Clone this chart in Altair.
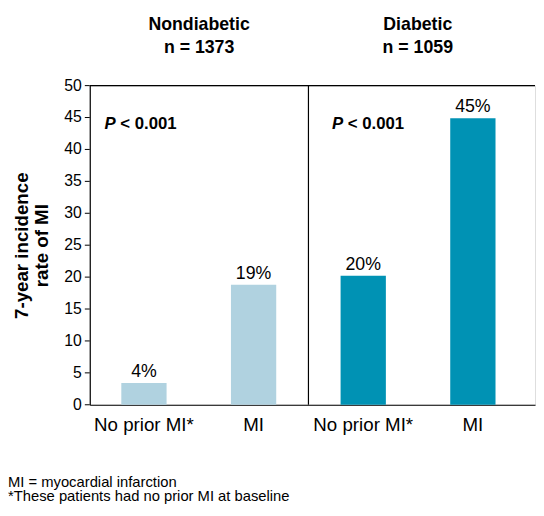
import altair as alt
import pandas as pd

# ---- data ----
keys = ["nd_no", "nd_mi", "d_no", "d_mi"]
categories = ["No prior MI*", "MI", "No prior MI*", "MI"]
groups = ["Nondiabetic", "Nondiabetic", "Diabetic", "Diabetic"]
values = [3.4, 18.8, 20.2, 44.9]
value_labels = ["4%", "19%", "20%", "45%"]
group_titles = ["Nondiabetic", "Diabetic"]
group_sizes = ["n = 1373", "n = 1059"]
p_value_text = "< 0.001"
y_ticks = [0, 5, 10, 15, 20, 25, 30, 35, 40, 45, 50]
y_tick_labels = ["0", "5", "10", "15", "20", "25", "30", "35", "40", "45", "50"]
footnotes = ["MI = myocardial infarction", "*These patients had no prior MI at baseline"]

FONT = "Liberation Sans"
LIGHT = "#b0d2e0"
TEAL = "#0092b4"

df = pd.DataFrame({"key": keys, "cat": categories, "group": groups,
                   "value": values, "label": value_labels})

label_expr = "[" + ",".join(f"'{c}'" for c in categories) + "][indexof([" + \
    ",".join(f"'{k}'" for k in keys) + "], datum.value)]"

W, H = 452, 324

xscale = alt.Scale(domain=keys, paddingInner=0.587, paddingOuter=0.324, align=0.444)
yscale = alt.Scale(domain=[0, 50], nice=False)

xaxis = alt.Axis(labelExpr=label_expr, title=None, ticks=False, labelAngle=0,
                 labelFontSize=19, labelFont=FONT, labelColor="black",
                 labelPadding=11, domainColor="black", domainWidth=1.2)
yaxis = alt.Axis(labels=False, ticks=False, grid=False,
                 domainColor="black", domainWidth=1.2,
                 title=["7-year incidence", "rate of MI"], titleFont=FONT,
                 titleFontSize=19, titleFontWeight="bold", titleColor="black",
                 titleLineHeight=20, titlePadding=39)

X = alt.X("key:N", scale=xscale, sort=keys, axis=xaxis)

base = alt.Chart(df)

bars = base.mark_bar().encode(
    x=X,
    y=alt.Y("value:Q", scale=yscale, axis=yaxis),
    color=alt.Color("group:N", scale=alt.Scale(domain=group_titles, range=[LIGHT, TEAL]),
                    legend=None),
)

labels = base.mark_text(baseline="bottom", dy=-2, fontSize=18, font=FONT, color="black").encode(
    x=X,
    y=alt.Y("value:Q", scale=yscale, axis=yaxis),
    text="label:N",
)

# y ticks and tick labels drawn from the tick list through the y scale
tick_df = pd.DataFrame({"t": y_ticks, "lab": y_tick_labels})
ticks = alt.Chart(tick_df).mark_rule(color="black", strokeWidth=1).encode(
    y=alt.Y("t:Q", scale=yscale, axis=yaxis), x=alt.value(-5), x2=alt.value(0))
tick_text = alt.Chart(tick_df).mark_text(align="right", baseline="middle", fontSize=16,
                                         font=FONT, color="black").encode(
    y=alt.Y("t:Q", scale=yscale, axis=yaxis), x=alt.value(-8), text="lab:N")

top_df = pd.DataFrame({"v": [50]})
top_rule = alt.Chart(top_df).mark_rule(color="black", strokeWidth=1.2).encode(
    y=alt.Y("v:Q", scale=yscale, axis=yaxis))

divider = alt.Chart(top_df).mark_rule(color="black", strokeWidth=1.2).encode(
    x=alt.value(222), y=alt.value(0), y2=alt.value(H))

hdr_df = pd.DataFrame({"t": group_titles, "n": group_sizes, "px": [111, 333]})
hdr1 = alt.Chart(hdr_df).mark_text(fontSize=18, fontWeight="bold", font=FONT, color="black").encode(
    x=alt.X("px:Q", scale=None), y=alt.value(-61), text="t:N")
hdr2 = alt.Chart(hdr_df).mark_text(fontSize=18, fontWeight="bold", font=FONT, color="black").encode(
    x=alt.X("px:Q", scale=None), y=alt.value(-38), text="n:N")

p_df = pd.DataFrame({"px": [15, 246], "p": ["P", "P"], "rest": [p_value_text, p_value_text]})
p1 = alt.Chart(p_df).mark_text(fontSize=17, fontWeight="bold", fontStyle="italic", font=FONT,
                               color="black", align="left").encode(
    x=alt.X("px:Q", scale=None), y=alt.value(39), text="p:N")
p2 = alt.Chart(p_df).mark_text(fontSize=17, fontWeight="bold", font=FONT,
                               color="black", align="left", dx=16).encode(
    x=alt.X("px:Q", scale=None), y=alt.value(39), text="rest:N")

fn_df = pd.DataFrame({"t": footnotes, "py": [407, 422]})
fn = alt.Chart(fn_df).mark_text(fontSize=15, font=FONT, color="black", align="left",
                                baseline="alphabetic").encode(
    x=alt.value(-83), y=alt.Y("py:Q", scale=None), text="t:N")

chart = alt.layer(bars, labels, ticks, tick_text, top_rule, divider,
                  hdr1, hdr2, p1, p2, fn).properties(
    width=W, height=H,
    autosize=alt.AutoSizeParams(type="none"),
    padding={"left": 83, "top": 75, "right": 1, "bottom": 101},
).configure_view(stroke=None).configure(background="white")

chart.save("out.html", embed_options={"renderer": "svg", "actions": False})
